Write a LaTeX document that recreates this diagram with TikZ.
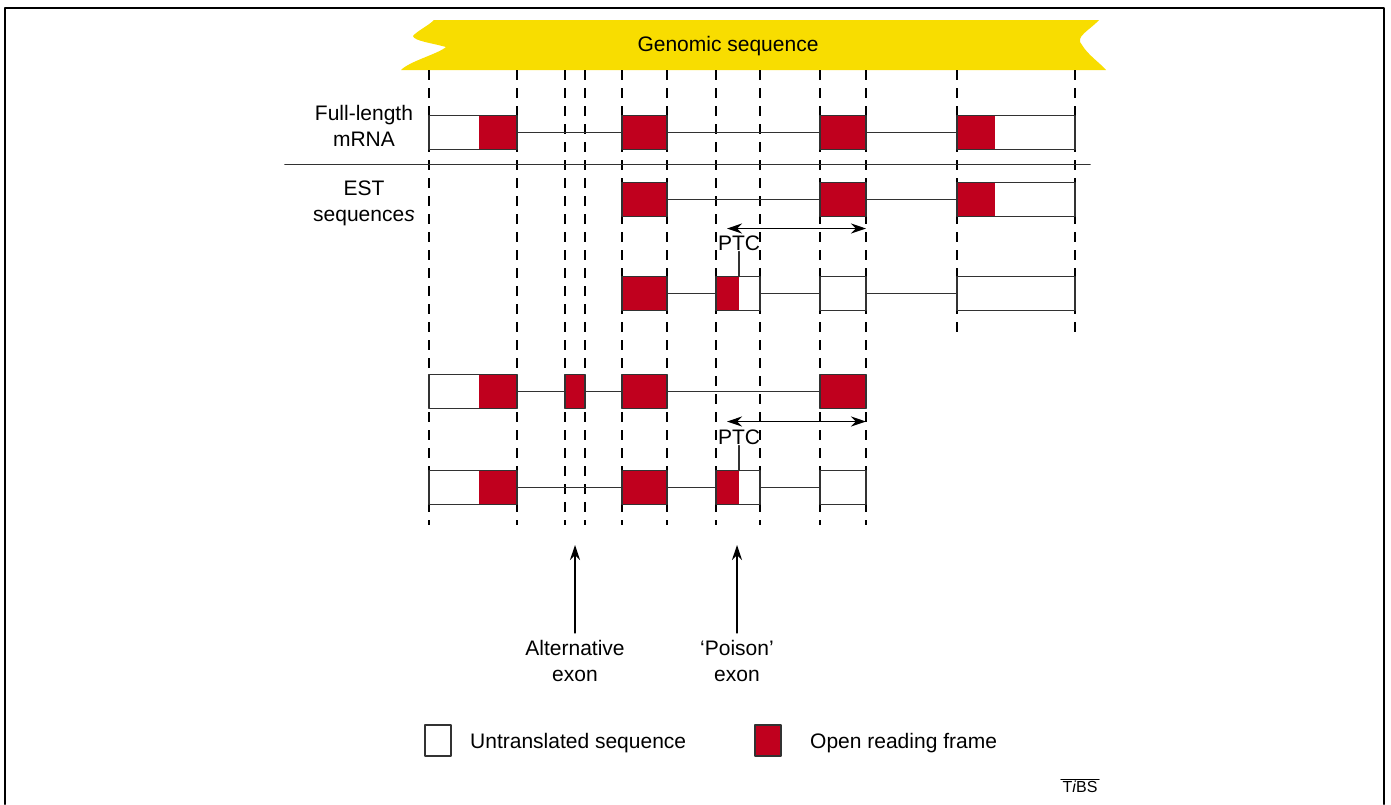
\documentclass[tikz,border=0pt]{standalone}
\usepackage{fontspec}
\setmainfont{Liberation Sans}
\usepackage{tikz}
\usetikzlibrary{arrows.meta}
\definecolor{orfred}{RGB}{192,0,30}
\definecolor{bandyellow}{RGB}{248,221,0}
\definecolor{linegray}{RGB}{50,50,50}
\newcommand{\lbl}{\fontsize{21}{26}\selectfont}

\begin{document}
\begin{tikzpicture}[line cap=round,line join=round,>={Stealth[length=15pt,width=10pt]},x=1pt,y=-1pt,
  exon/.style={draw=linegray,fill=white,line width=1.6pt,inner sep=0pt,outer sep=0pt,minimum height=34pt,anchor=west},
  orf/.style={exon,fill=orfred},
  orfpart/.style 2 args={path picture={\fill[orfred] ([xshift=#1]path picture bounding box.south west) rectangle ([xshift=#2]path picture bounding box.north west);}},
  guide/.style={dash pattern=on 10pt off 8pt,line width=1.3pt,line cap=butt},
  intron/.style={line width=1.6pt,draw=linegray},
  lbl/.style={font=\lbl,align=center}]
\useasboundingbox (0,0) rectangle (1391,804);
% frame
\draw [line width=2.5pt] (5,804) -- (5,8) -- (1384,8) -- (1384,804);
% genomic sequence band
\fill [bandyellow] (434,20) -- (1099,20) .. controls (1090,30) and (1074,37) .. (1082,45) .. controls (1088,55) and (1100,63) .. (1106,70) -- (401,70) .. controls (410,61) and (438,54) .. (446,47) .. controls (432,43) and (414,41) .. (413,36) .. controls (417,31) and (428,26) .. (434,20) -- cycle;
\node [lbl] (genome) at (728,46) {Genomic sequence};
% guides
\draw [guide] (429,70) -- (429,525);
\draw [guide] (517,70) -- (517,525);
\draw [guide] (565,70) -- (565,525);
\draw [guide] (585,70) -- (585,525);
\draw [guide] (622,70) -- (622,525);
\draw [guide] (667,70) -- (667,525);
\draw [guide] (716,70) -- (716,525);
\draw [guide] (760,70) -- (760,525);
\draw [guide] (820,70) -- (820,525);
\draw [guide] (866,70) -- (866,525);
\draw [guide] (957,70) -- (957,333);
\draw [guide] (1075,70) -- (1075,333);
% full-length mRNA
\node [lbl] (fulltxt) at (364,126) {Full-length\\mRNA};
\node [exon,minimum width=88pt,orfpart={50pt}{88pt}] (fa) at (429,132.5) {};
\node [orf,minimum width=45pt] (fb) at (622,132.5) {};
\node [orf,minimum width=46pt] (fc) at (820,132.5) {};
\node [exon,minimum width=118pt,orfpart={0pt}{38pt}] (fd) at (957,132.5) {};
\draw [intron] (fa.east) -- (fb.west);
\draw [intron] (fb.east) -- (fc.west);
\draw [intron] (fc.east) -- (fd.west);
\draw [intron] (285,164.5) -- (1090,164.5);
% EST sequences
\node [lbl] (esttxt) at (364,203) {EST\\sequence\textit{s}};
\node [orf,minimum width=45pt] (ea) at (622,199.5) {};
\node [orf,minimum width=46pt] (eb) at (820,199.5) {};
\node [exon,minimum width=118pt,orfpart={0pt}{38pt}] (ec) at (957,199.5) {};
\draw [intron] (ea.east) -- (eb.west);
\draw [intron] (eb.east) -- (ec.west);
\coordinate (dla) at (727,228.5);
\coordinate (dra) at (866,228.5);
\draw [<->,line width=1.4pt] (dla) -- (dra);
\node [lbl,inner sep=1pt] (ptca) at (739,243) {PTC};
\node [orf,minimum width=45pt] (pa) at (622,293.5) {};
\node [exon,minimum width=44pt,orfpart={0pt}{23pt}] (pb) at (716,293.5) {};
\node [exon,minimum width=46pt] (pc) at (820,293.5) {};
\node [exon,minimum width=118pt] (pd) at (957,293.5) {};
\draw [intron] (pa.east) -- (pb.west);
\draw [intron] (pb.east) -- (pc.west);
\draw [intron] (pc.east) -- (pd.west);
\draw [intron] (ptca.south) -- (ptca.south |- pb.north);
\node [exon,minimum width=88pt,orfpart={50pt}{88pt}] (aa) at (429,391.5) {};
\node [orf,minimum width=20pt] (ab) at (565,391.5) {};
\node [orf,minimum width=45pt] (ac) at (622,391.5) {};
\node [orf,minimum width=46pt] (ad) at (820,391.5) {};
\draw [intron] (aa.east) -- (ab.west);
\draw [intron] (ab.east) -- (ac.west);
\draw [intron] (ac.east) -- (ad.west);
\coordinate (dlb) at (727,421.5);
\coordinate (drb) at (866,421.5);
\draw [<->,line width=1.4pt] (dlb) -- (drb);
\node [lbl,inner sep=1pt] (ptcb) at (739,437) {PTC};
\node [exon,minimum width=88pt,orfpart={50pt}{88pt}] (ba) at (429,487.5) {};
\node [orf,minimum width=45pt] (bb) at (622,487.5) {};
\node [exon,minimum width=44pt,orfpart={0pt}{23pt}] (bc) at (716,487.5) {};
\node [exon,minimum width=46pt] (bd) at (820,487.5) {};
\draw [intron] (ba.east) -- (bb.west);
\draw [intron] (bb.east) -- (bc.west);
\draw [intron] (bc.east) -- (bd.west);
\draw [intron] (ptcb.south) -- (ptcb.south |- bc.north);
% pointers
\node [lbl,outer sep=4pt] (alttxt) at (575,661) {Alternative\\exon};
\node [lbl,outer sep=4pt] (poisontxt) at (737,661) {‘Poison’\\exon};
\coordinate (altup) at (575,545);
\coordinate (poisonup) at (737,545);
\draw [->,line width=1.4pt] (alttxt.north) -- (altup);
\draw [->,line width=1.4pt] (poisontxt.north) -- (poisonup);
% key
\node [exon,minimum width=26pt,minimum height=31pt] (keyutr) at (425,740.5) {};
\node [lbl,anchor=base west,inner sep=0pt] (keyutrtxt) at (470,748) {Untranslated sequence};
\node [orf,minimum width=26pt,minimum height=31pt] (keyorf) at (755,740.5) {};
\node [lbl,anchor=base west,inner sep=0pt] (keyorftxt) at (810,748) {Open reading frame};
\node [font=\fontsize{16}{18}\selectfont,inner sep=1.5pt] (tibs) at (1080,787) {T\textit{i}BS};
\draw [line width=1pt] (tibs.north west) -- (tibs.north east);
\end{tikzpicture}
\end{document}
